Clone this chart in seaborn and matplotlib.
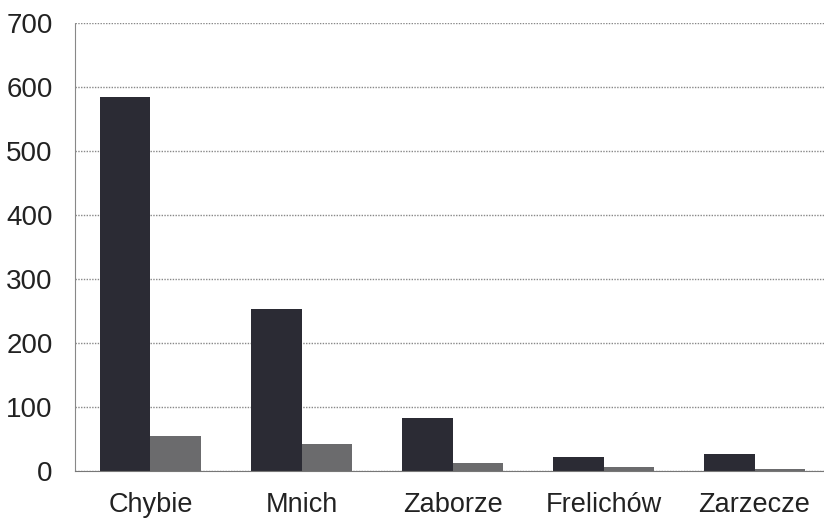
import matplotlib
matplotlib.use("Agg")
import matplotlib.pyplot as plt
import seaborn as sns
import pandas as pd

categories = ["Chybie", "Mnich", "Zaborze", "Frelichów", "Zarzecze"]
series_a = [584, 253, 82, 22, 26]
series_b = [55, 42, 12, 6, 3]
yticks = [0, 100, 200, 300, 400, 500, 600, 700]

df = pd.DataFrame({
    "cat": categories * 2,
    "val": series_a + series_b,
    "ser": ["A"] * len(categories) + ["B"] * len(categories),
})

sns.set_style("white")
plt.rcParams['font.family'] = ['Liberation Sans', 'DejaVu Sans']

fig = plt.figure(figsize=(8.24, 5.19), dpi=100)
ax = fig.add_axes([0.091, 0.0925, 0.909, 0.8635])

sns.barplot(data=df, x="cat", y="val", hue="ser", order=categories,
            palette={"A": "#2b2b34", "B": "#6b6b6d"}, width=0.67, gap=0,
            saturation=1, legend=False, ax=ax, edgecolor="none", errorbar=None)

ax.set_xlim(-0.5, 4.46)
ax.set_ylim(0, 700)
ax.set_yticks(yticks)
ax.set_yticklabels([str(v) for v in yticks], fontsize=20, color="#222222")
ax.set_xticks(range(len(categories)))
ax.set_xticklabels(categories, fontsize=19.5, color="#222222")
ax.set_xticks([i - 0.5 for i in range(len(categories))], minor=True)
ax.tick_params(axis="x", which="major", length=0, pad=15)
ax.tick_params(axis="x", which="minor", length=7, width=1, color="#888888", direction="out")
ax.tick_params(axis="y", length=9, width=1, color="#999999", pad=7, direction="out")
ax.set_xlabel("")
ax.set_ylabel("")

ax.grid(axis="y", linestyle=(0, (1, 1)), color="#888888", linewidth=1)
ax.set_axisbelow(True)
for s in ["top", "right"]:
    ax.spines[s].set_visible(False)
ax.spines["left"].set_linestyle((0, (1, 1)))
ax.spines["left"].set_color("#888888")
ax.spines["bottom"].set_linestyle((0, (1, 1)))
ax.spines["bottom"].set_color("#777777")

fig.savefig("out.png", dpi=100)
